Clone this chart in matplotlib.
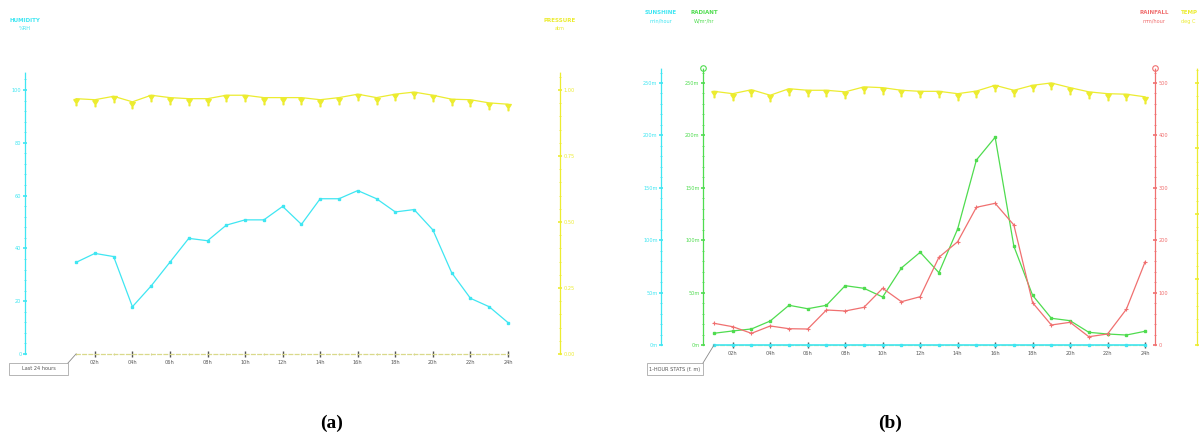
import matplotlib
matplotlib.use("Agg")
import matplotlib.pyplot as plt
import numpy as np
from matplotlib.ticker import AutoMinorLocator, FixedLocator
from matplotlib.path import Path
from matplotlib.patches import Rectangle

# ---- data ----
hours = np.arange(24)
hour_labels = ["02h", "04h", "06h", "08h", "10h", "12h",
               "14h", "16h", "18h", "20h", "22h", "24h"]

a_cyan = [34.7, 38.1, 36.9, 17.9, 25.8, 34.8, 43.8, 42.9, 48.8, 50.8, 50.8, 55.9,
          49.1, 58.8, 58.8, 61.9, 58.8, 53.8, 54.7, 47.0, 30.8, 21.1, 17.9, 11.9]
a_yellow = [0.967, 0.963, 0.976, 0.955, 0.980, 0.971, 0.967, 0.967, 0.980, 0.980, 0.971, 0.971,
            0.971, 0.963, 0.971, 0.984, 0.971, 0.984, 0.992, 0.980, 0.965, 0.963, 0.951, 0.946]

b_cyan = [0.0] * 24
b_green = [11.2, 13.4, 15.3, 22.9, 37.9, 34.6, 37.9, 56.6, 54.1, 45.8, 73.5, 88.5,
           69.0, 110.7, 176.5, 198.2, 94.2, 47.4, 25.5, 23.2, 12.1, 10.5, 9.5, 13.1]
b_red = [41.4, 34.9, 22.3, 36.3, 31.1, 30.5, 66.8, 64.9, 71.9, 108.2, 82.6, 92.2,
         167.4, 197.1, 262.8, 270.4, 229.0, 80.7, 38.2, 43.3, 15.8, 21.0, 68.1, 158.4]
b_yellow = [0.968, 0.959, 0.974, 0.953, 0.978, 0.972, 0.972, 0.966, 0.985, 0.982, 0.972, 0.968,
            0.968, 0.959, 0.969, 0.991, 0.972, 0.991, 1.000, 0.982, 0.966, 0.959, 0.957, 0.947]

left_ticks_a = [0, 20, 40, 60, 80, 100]
right_ticks_a = [0, 0.25, 0.5, 0.75, 1.0]
green_ticks = [0, 50, 100, 150, 200, 250]
green_labels = ["0m", "50m", "100m", "150m", "200m", "250m"]
red_ticks = [0, 100, 200, 300, 400, 500]
yellow_ticks_b = [0, 0.25, 0.5, 0.75, 1.0]

CYAN = "#3fe6f2"
YELLOW = "#ecec30"
GREEN = "#4fdc4f"
RED = "#f07070"
GREY = "#555555"
FS = 3.6

W, H = 1202, 438
fig = plt.figure(figsize=(W / 100, H / 100), dpi=100)

# hanging pennant marker (top at the data point)
pennant = Path([(-0.55, 0), (0.55, 0), (0.08, -0.75), (0.08, -1.25),
                (-0.08, -1.25), (-0.08, -0.75), (-0.55, 0)])


def px_axes(x0, x1, ybot, ytop):
    return fig.add_axes([x0 / W, (H - ybot) / H, (x1 - x0) / W, (ybot - ytop) / H])


def style_y(ax, side, color, ticks, labels=None):
    ax.spines[side].set_color(color)
    ax.spines[side].set_linestyle((0, (1, 1)))
    ax.spines[side].set_linewidth(0.9)
    ax.yaxis.set_major_locator(FixedLocator(ticks))
    if labels is not None:
        ax.set_yticklabels(labels)
    ax.yaxis.set_minor_locator(AutoMinorLocator(5))
    ax.tick_params(axis="y", which="major", colors=color, labelcolor=color,
                   labelsize=FS, direction="inout", length=3, width=1.2, pad=1)
    ax.tick_params(axis="y", which="minor", colors=color, direction="inout",
                   length=1.5, width=0.6)


def style_x(ax, x_first, x_last):
    ax.spines["bottom"].set_bounds(x_first, x_last)
    ax.spines["bottom"].set_color("#d9d98a")
    ax.spines["bottom"].set_linestyle((0, (3, 2)))
    ax.spines["bottom"].set_linewidth(0.9)
    ax.set_xticks(hours[1::2])
    ax.set_xticklabels(hour_labels)
    ax.set_xticks(hours[0::2], minor=True)
    ax.tick_params(axis="x", which="major", colors=GREY, labelsize=FS,
                   direction="inout", length=4, width=1.0, pad=2)
    ax.tick_params(axis="x", which="minor", colors="#c8c890",
                   direction="inout", length=2, width=0.6)


def corner_box(x_axis_px, y_axis_px, x_box0, x_box1, text):
    fig.add_artist(plt.Line2D([x_box1 / W, x_axis_px / W],
                              [(H - 363) / H, (H - y_axis_px) / H],
                              color="#888888", lw=0.6))
    fig.add_artist(Rectangle((x_box0 / W, (H - 375) / H), (x_box1 - x_box0) / W, 12 / H,
                             fill=False, ec="#999999", lw=0.5))
    fig.text((x_box0 + x_box1) / 2 / W, (H - 369) / H, text, fontsize=FS,
             color=GREY, ha="center", va="center")


def header(x, y, title, unit, color, ha="center"):
    fig.text(x / W, (H - y) / H, title, fontsize=FS + 0.4, color=color,
             ha=ha, va="center", fontweight="bold")
    fig.text(x / W, (H - y - 8) / H, unit, fontsize=FS, color=color,
             ha=ha, va="center")


# ================= panel (a) =================
axA = px_axes(25, 560, 354, 72)
axA.plot(hours, a_cyan, color=CYAN, lw=0.9, marker="s", ms=2, mec=CYAN)
axA.set_xlim(-2.72, 25.77)
axA.set_ylim(0, 106.8)
for s in ["top", "right"]:
    axA.spines[s].set_visible(False)
style_y(axA, "left", CYAN, left_ticks_a)
style_x(axA, 0, 23)

axA2 = axA.twinx()
axA2.plot(hours, a_yellow, color=YELLOW, lw=0.9, marker=pennant, ms=9, mec=YELLOW, mfc=YELLOW)
axA2.set_ylim(0, 1.068)
for s in ["top", "left", "bottom"]:
    axA2.spines[s].set_visible(False)
style_y(axA2, "right", YELLOW, right_ticks_a)

header(25, 20, "HUMIDITY", "%RH", CYAN)
header(560, 20, "PRESSURE", "atm", YELLOW)
corner_box(76, 354, 9, 68, "Last 24 hours")

# ================= panel (b) =================
axB = px_axes(703, 1155, 345, 68)
axB.plot(hours, b_green, color=GREEN, lw=0.9, marker="s", ms=2, mec=GREEN)
axB.set_xlim(-0.587, 23.53)
axB.set_ylim(0, 264.3)
for s in ["top", "right"]:
    axB.spines[s].set_visible(False)
style_y(axB, "left", GREEN, green_ticks, green_labels)
style_x(axB, 0, 23)
axB.plot([0], [1.0], transform=axB.transAxes, marker="o", ms=4, mfc="white",
         mec=GREEN, mew=0.8, clip_on=False)

axR = axB.twinx()
axR.plot(hours, b_red, color=RED, lw=0.9, marker="+", ms=3, mew=0.8)
axR.set_ylim(0, 528.6)
for s in ["top", "left", "bottom"]:
    axR.spines[s].set_visible(False)
style_y(axR, "right", RED, red_ticks)
axR.plot([1], [1.0], transform=axR.transAxes, marker="o", ms=4, mfc="white",
         mec=RED, mew=0.8, clip_on=False)

axC = axB.twinx()
axC.plot(hours, b_cyan, color=CYAN, lw=1.2, marker="s", ms=2, mec=CYAN, clip_on=False)
axC.set_ylim(0, 264.3)
axC.yaxis.set_ticks_position("left")
axC.yaxis.set_label_position("left")
axC.spines["left"].set_position(("axes", (661 - 703) / 452))
for s in ["top", "right", "bottom"]:
    axC.spines[s].set_visible(False)
style_y(axC, "left", CYAN, green_ticks, green_labels)

axY = axB.twinx()
axY.plot(hours, b_yellow, color=YELLOW, lw=0.9, marker=pennant, ms=9, mec=YELLOW, mfc=YELLOW)
axY.set_ylim(0, 1.057)
axY.spines["right"].set_position(("axes", (1197 - 703) / 452))
for s in ["top", "left", "bottom"]:
    axY.spines[s].set_visible(False)
style_y(axY, "right", YELLOW, yellow_ticks_b)
axY.tick_params(axis="y", labelright=False)

header(661, 13, "SUNSHINE", "min/hour", CYAN)
header(704, 13, "RADIANT", "W/m\u00b2/hr", GREEN)
header(1154, 13, "RAINFALL", "mm/hour", RED)
header(1181, 13, "TEMP", "deg C", YELLOW, ha="left")
corner_box(714, 345, 647, 703, "1-HOUR STATS (f. m)")

# panel captions
fig.text(332 / W, (H - 423) / H, "(a)", fontsize=14, fontweight="bold",
         family="Liberation Serif", ha="center", va="center")
fig.text(890 / W, (H - 423) / H, "(b)", fontsize=14, fontweight="bold",
         family="Liberation Serif", ha="center", va="center")

fig.savefig("out.png", dpi=100)
